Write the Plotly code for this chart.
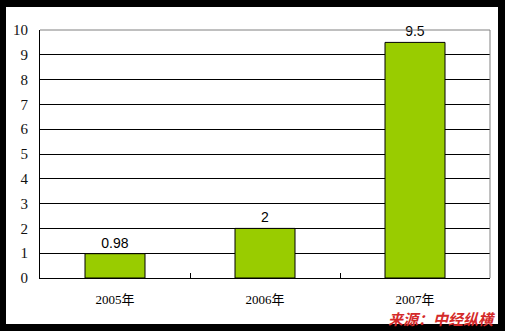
import plotly.graph_objects as go

categories = ["2005年", "2006年", "2007年"]
values = [0.98, 2, 9.5]
value_labels = ["0.98", "2", "9.5"]
y_ticks = list(range(0, 11))

W, H = 505, 331
L, R, T, B = 40, 15, 30, 53
pw, ph = W - L - R, H - T - B

def px_x(x):
    return (x - L) / pw

def px_y(y):
    return (H - B - y) / ph

fig = go.Figure(go.Bar(
    x=categories, y=values, text=value_labels,
    textposition="outside", cliponaxis=False,
    marker=dict(color="#99CC00", line=dict(color="black", width=1)),
    textfont=dict(family="Liberation Sans, Noto Sans CJK SC", size=14, color="black"),
    width=0.4,
))

shapes = [
    dict(type="rect", xref="paper", yref="paper", layer="below",
         x0=px_x(6), x1=px_x(498), y0=px_y(324), y1=px_y(7),
         fillcolor="white", line=dict(width=0)),
    dict(type="line", xref="paper", yref="paper", layer="above",
         x0=0, x1=1, y0=1, y1=1, line=dict(color="#808080", width=1)),
    dict(type="line", xref="paper", yref="paper", layer="above",
         x0=1, x1=1, y0=0, y1=1, line=dict(color="#808080", width=1)),
]

fig.update_layout(
    width=W, height=H,
    margin=dict(l=L, r=R, t=T, b=B),
    paper_bgcolor="black", plot_bgcolor="white",
    showlegend=False, shapes=shapes,
    xaxis=dict(showline=True, linecolor="black", linewidth=1,
               ticks="inside", tickson="boundaries", ticklen=5, tickcolor="black",
               showgrid=False, ticklabelstandoff=9,
               tickfont=dict(family="Liberation Serif, Noto Sans CJK SC", size=13, color="black")),
    yaxis=dict(range=[0, 10], tickvals=y_ticks, showline=True, linecolor="black",
               linewidth=1, showgrid=True, gridcolor="black", gridwidth=1,
               zeroline=False, ticks="", ticklabelstandoff=8,
               tickfont=dict(family="Liberation Serif", size=15, color="#111111")),
    annotations=[dict(text="来源：中经纵横", xref="paper", yref="paper",
                      x=px_x(497), y=px_y(318), xanchor="right", yanchor="middle",
                      showarrow=False, borderpad=0,
                      font=dict(family="Noto Sans CJK SC", size=15, color="#D42A2A",
                                weight="bold", style="italic"))],
)

fig.write_html("out.html")
